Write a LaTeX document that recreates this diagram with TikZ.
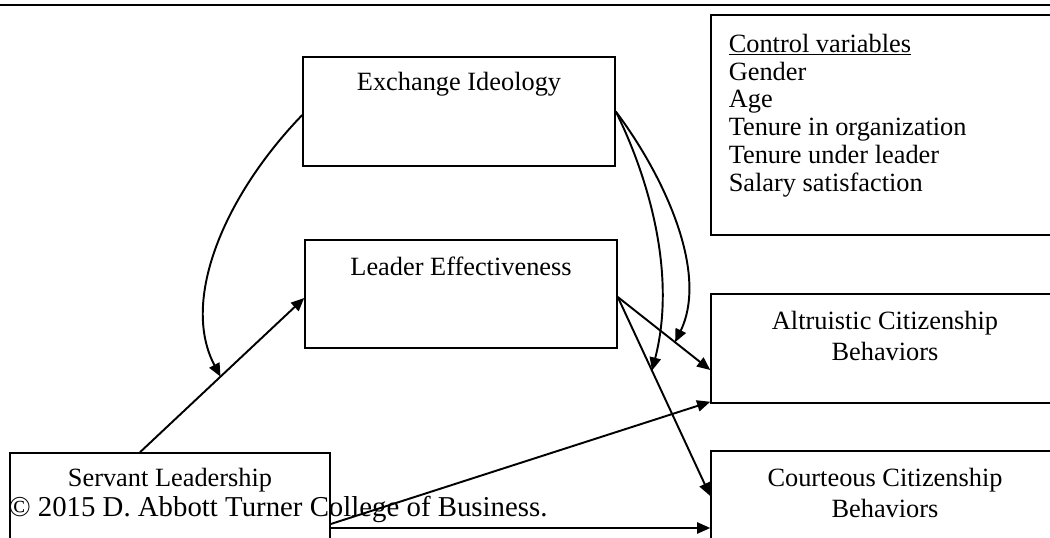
\documentclass[tikz,border=0pt]{standalone}
\usepackage{fontspec}
\setmainfont{Liberation Serif}
\usetikzlibrary{arrows.meta}

\begin{document}
\begin{tikzpicture}[x=0.02cm,y=-0.02cm,line width=0.9pt,>={Triangle[length=7.5pt,width=6.4pt]}]
    \tikzstyle{box}=[draw=black, rectangle, inner sep=0pt, fill=none]
    \tikzstyle{lbl}=[inner sep=0pt, text=black, align=center, font=\fontsize{15}{17.6}\selectfont]
    \tikzstyle{arr}=[->, draw=black, line width=1.1pt]

    \useasboundingbox (0,0) rectangle (1050,537);
    \draw[line width=1.5pt] (0,5) -- (1050,5);

    % boxes
    \node[box, minimum width=6.24cm, minimum height=2.18cm] (ei)   at (459,111.5) {};
    \node[box, minimum width=6.24cm, minimum height=2.16cm] (le)   at (461,294)   {};
    \node[box, minimum width=6.40cm, minimum height=2.14cm] (sl)   at (170,506.5) {};
    \node[box, minimum width=6.96cm, minimum height=2.18cm] (alt)  at (885,348.5) {};
    \node[box, minimum width=6.96cm, minimum height=2.18cm] (cour) at (885,505.5) {};
    \node[box, minimum width=6.98cm, minimum height=4.40cm] (ctrl) at (885.5,125) {};

    % texts
    \node[lbl] (ei_txt)   at (459,84)  {Exchange Ideology};
    \node[lbl] (le_txt)   at (461,266) {Leader Effectiveness};
    \node[lbl] (sl_txt)   at (170,480) {Servant Leadership};
    \node[lbl] (alt_txt)  at (885,336) {Altruistic Citizenship\\Behaviors};
    \node[lbl] (cour_txt) at (885,493) {Courteous Citizenship\\Behaviors};
    \node[lbl, align=left, anchor=north west, font=\fontsize{15}{15.9}\selectfont] (ctrl_txt) at (728,33)
      {\underline{Control variables}\\Gender\\Age\\Tenure in organization\\Tenure under leader\\Salary satisfaction};
    \node[inner sep=0pt, anchor=base west, font=\fontsize{16.4}{20}\selectfont] (copy) at (8,516)
      {\textcopyright{} 2015 D. Abbott Turner College of Business.};

    % paths
    \draw[arr] ([xshift=-0.6cm]sl.north) -- coordinate[pos=0.49] (m1) ([yshift=-0.08cm]le.west);
    \draw[arr] ([yshift=-0.06cm]le.east) -- coordinate[pos=0.62] (m2) ([yshift=-0.43cm]alt.west);
    \draw[arr] ([yshift=-0.06cm]le.east) -- coordinate[pos=0.37] (m3) ([yshift=0.19cm]cour.west);
    \draw[arr] ([yshift=-0.35cm]sl.east) -- ([yshift=0.04cm]alt.south west);
    \draw[arr] ([yshift=-0.43cm]sl.east) -- ([yshift=-0.45cm]cour.west);

    % moderation
    \draw[arr] ([yshift=-0.07cm]ei.west) .. controls (225,195) and (180,300) .. (m1);
    \draw[arr] (ei.east) .. controls (660,170) and (710,270) .. (m2);
    \draw[arr] (ei.east) .. controls (645,170) and (678,270) .. (m3);
\end{tikzpicture}
\end{document}
